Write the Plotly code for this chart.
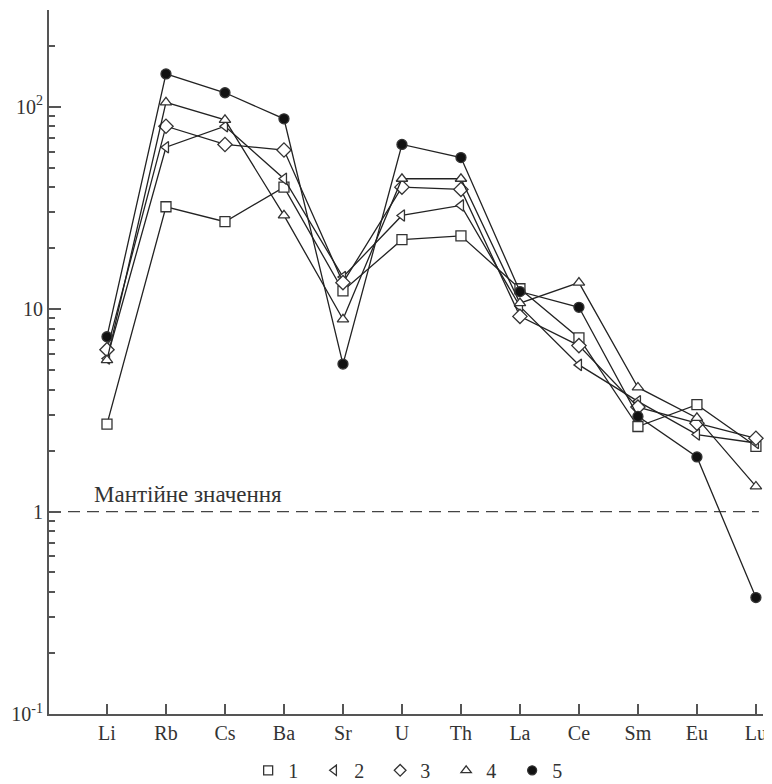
import plotly.graph_objects as go

elements = ["Li", "Rb", "Cs", "Ba", "Sr", "U", "Th", "La", "Ce", "Sm", "Eu", "Lu"]
series_names = ["1", "2", "3", "4", "5"]
s1 = [2.7, 32, 27, 40, 12.3, 22, 23, 12.6, 7.2, 2.63, 3.37, 2.1]
s2 = [5.7, 63, 80, 44, 14.4, 29, 32.5, 10.3, 5.3, 3.5, 2.4, 2.18]
s3 = [6.3, 80, 65, 61, 13.5, 40, 39, 9.2, 6.6, 3.28, 2.73, 2.3]
s4 = [5.6, 105, 86, 29, 8.9, 44, 44, 10.7, 13.5, 4.1, 2.9, 1.33]
s5 = [7.3, 145, 117, 87, 5.35, 65, 56, 12.2, 10.2, 2.95, 1.86, 0.376]
mantle_value = 1
mantle_label = "Мантійне значення"
y_tickvals = [0.1, 1, 10, 100]
y_ticktext = ["10<sup>-1</sup>", "1", "10", "10<sup>2</sup>"]

all_series = [s1, s2, s3, s4, s5]
symbols = ["square", "triangle-left", "diamond", "triangle-up", "circle"]
fills = ["white", "white", "white", "white", "#111"]
sizes = [10, 10, 11, 10, 10]

FONT = "Liberation Serif"
x = list(range(len(elements)))
x_range = [-0.983, 11.12]

fig = go.Figure()

# mantle reference line
fig.add_trace(go.Scatter(
    x=[x_range[0], 11.05], y=[mantle_value, mantle_value], mode="lines",
    line=dict(color="#444", width=1.3, dash="12px,7px"),
    showlegend=False, hoverinfo="skip"))

for vals, sym, fc, sz in zip(all_series, symbols, fills, sizes):
    fig.add_trace(go.Scatter(
        x=x, y=vals, mode="lines+markers",
        line=dict(color="#222", width=1.3),
        marker=dict(symbol=sym, size=sz, color=fc,
                    line=dict(color="#333", width=1.3)),
        showlegend=False, cliponaxis=False))

for name, sym, fc in zip(series_names, symbols, fills):
    fig.add_trace(go.Scatter(
        x=[None], y=[None], mode="markers", name=name,
        marker=dict(symbol=sym, size=9, color=fc,
                    line=dict(color="#333", width=1.3))))

minor_vals = [m * 10 ** e for e in (-1, 0, 1) for m in range(2, 10)] + [200, 300]

fig.update_xaxes(
    range=x_range, tickvals=x, ticktext=elements,
    showline=True, linecolor="#555", linewidth=2,
    ticks="inside", ticklen=10, tickwidth=1.5, tickcolor="#555",
    showgrid=False, zeroline=False, automargin=False,
    tickfont=dict(family=FONT, size=20, color="#333"))
fig.update_yaxes(
    type="log", range=[-1, 2.477],
    tickvals=y_tickvals, ticktext=y_ticktext,
    showline=True, linecolor="#555", linewidth=2,
    ticks="inside", ticklen=12, tickwidth=1.5, tickcolor="#555",
    minor=dict(tickvals=minor_vals, ticks="inside", ticklen=6,
               tickwidth=1.5, tickcolor="#555"),
    showgrid=False, zeroline=False, automargin=False,
    tickfont=dict(family=FONT, size=20, color="#333"))

fig.add_annotation(
    x=-0.25, y=0, xref="x", yref="y", text=mantle_label,
    showarrow=False, xanchor="left", yanchor="bottom", yshift=3,
    font=dict(family=FONT, size=23, color="#333"))

fig.update_layout(
    width=764, height=784,
    margin=dict(l=41, r=9, t=2, b=78),
    paper_bgcolor="white", plot_bgcolor="white",
    font=dict(family=FONT, size=20, color="#333"),
    legend=dict(orientation="h", x=0.51, xanchor="center",
                y=-0.08, yanchor="middle", itemwidth=30,
                entrywidth=21, entrywidthmode="pixels",
                font=dict(family=FONT, size=20, color="#333")),
)

fig.write_html("out.html")
